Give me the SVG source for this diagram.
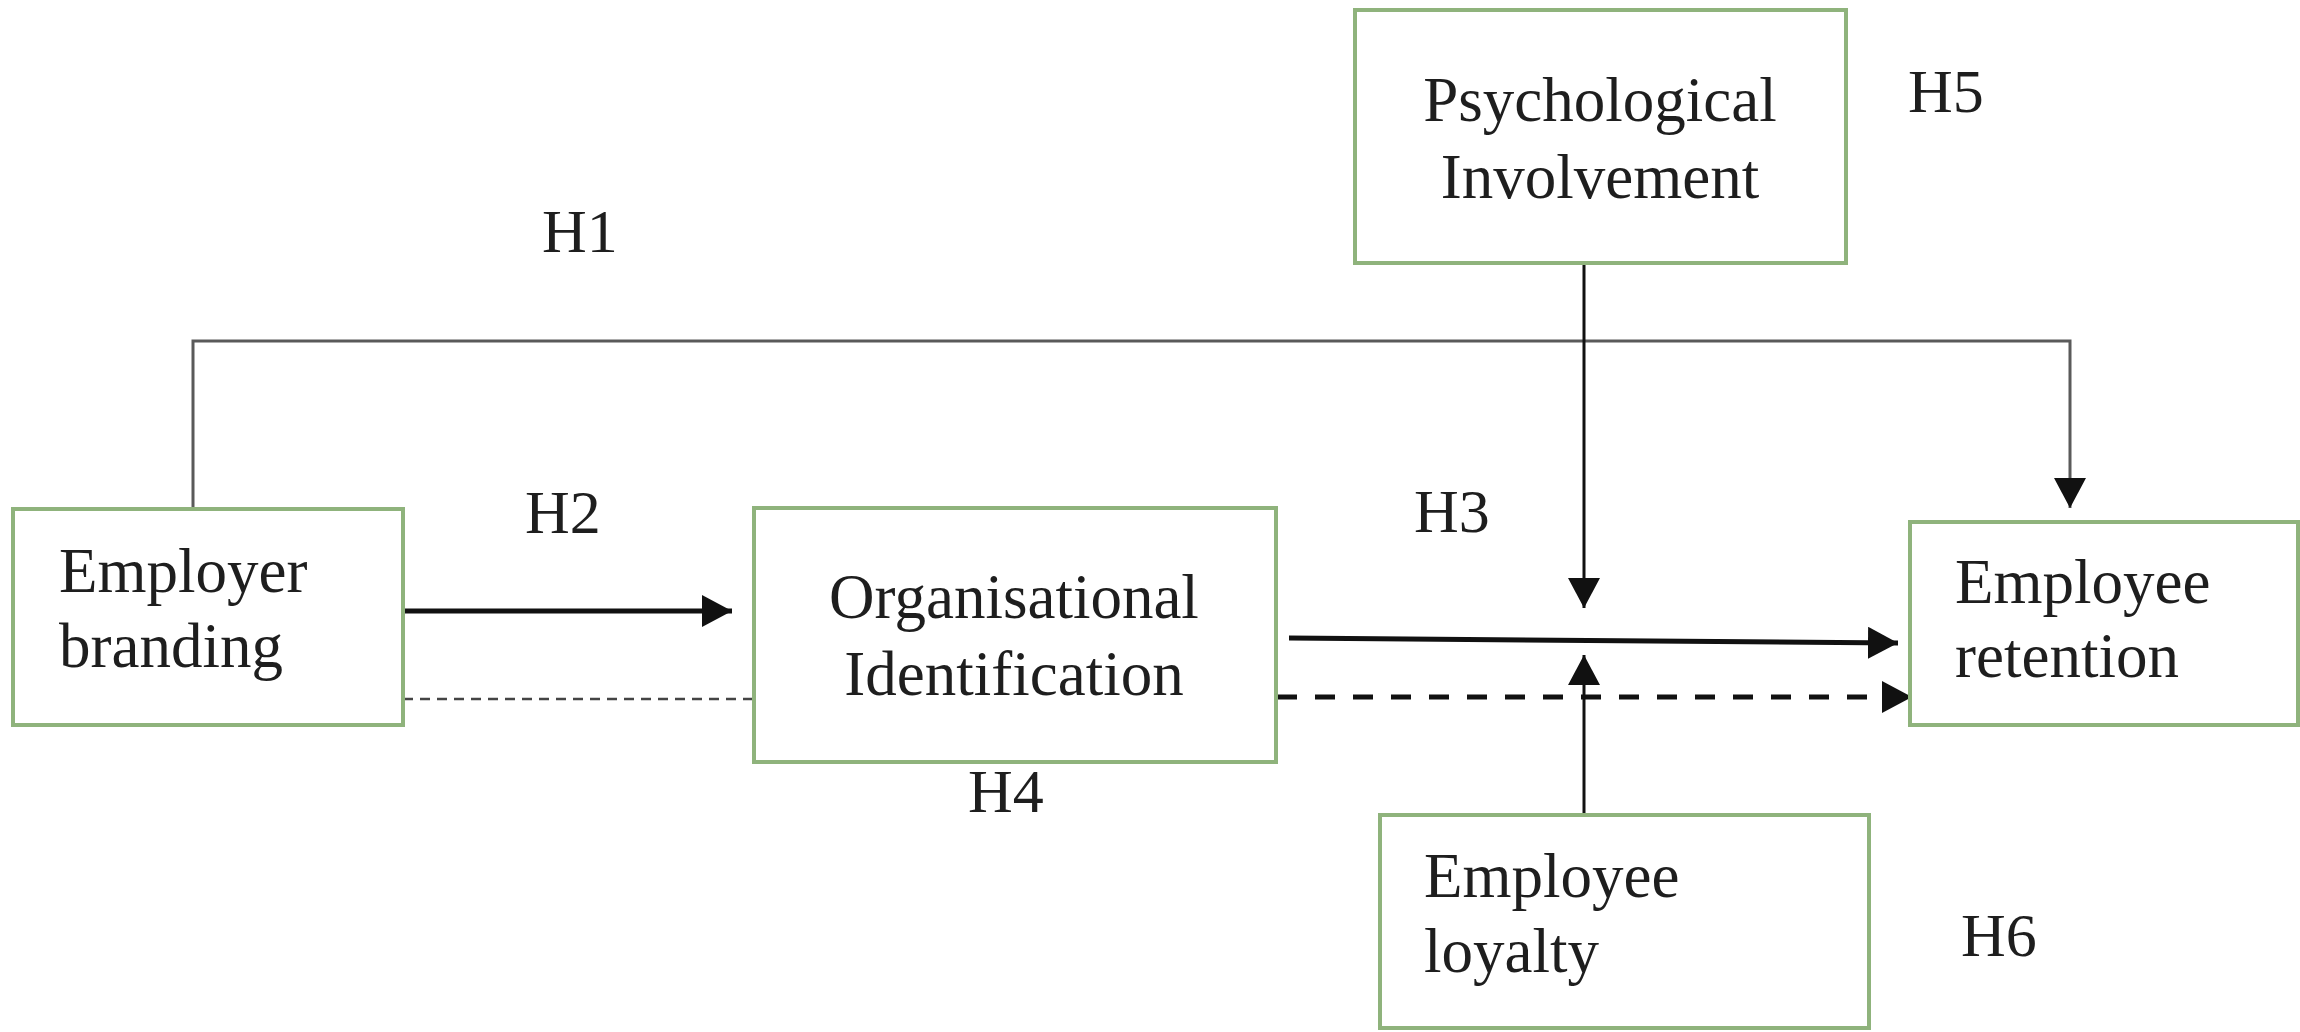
<svg xmlns="http://www.w3.org/2000/svg" width="2300" height="1032" viewBox="0 0 2300 1032">
  <style>
    .box { fill: #ffffff; stroke: #8fb37c; stroke-width: 4; }
    .lbl { font-family: "Liberation Serif", "Times New Roman", serif; font-size: 63px; fill: #1e1e1e; }
    .mid { text-anchor: middle; }
    .hyp { font-family: "Liberation Serif", "Times New Roman", serif; font-size: 62px; fill: #1e1e1e; }
    .solid { fill: none; stroke: #111; }
  </style>
  <defs>
    <marker id="head" markerUnits="userSpaceOnUse" viewBox="0 0 30 32" markerWidth="30" markerHeight="32" refX="30" refY="16" orient="auto">
      <path d="M0,0 L30,16 L0,32 z" fill="#111"/>
    </marker>
  </defs>

  <rect width="2300" height="1032" fill="#ffffff"/>

  <!-- connectors -->
  <g id="connectors">
    <!-- H1: employer branding to retention, routed over the top -->
    <path d="M193,509 V341 H2070 V508" fill="none" stroke="#5a5a5a" stroke-width="3" marker-end="url(#head)"/>
    <!-- H2: employer branding to organisational identification -->
    <line class="solid" x1="403" y1="611" x2="732" y2="611" stroke-width="5" marker-end="url(#head)"/>
    <!-- H4: indirect path (dashed) -->
    <line x1="403" y1="699" x2="754" y2="699" stroke="#444" stroke-width="2.5" stroke-dasharray="10 7"/>
    <line x1="1277" y1="697" x2="1912" y2="697" stroke="#111" stroke-width="5" stroke-dasharray="20 18" marker-end="url(#head)"/>
    <!-- H3: organisational identification to retention -->
    <line class="solid" x1="1289" y1="638" x2="1898" y2="643" stroke-width="5" marker-end="url(#head)"/>
    <!-- H5 / H6 moderators -->
    <line class="solid" x1="1584" y1="263" x2="1584" y2="608" stroke-width="3" marker-end="url(#head)"/>
    <line class="solid" x1="1584" y1="815" x2="1584" y2="655" stroke-width="3" marker-end="url(#head)"/>
  </g>

  <!-- nodes -->
  <g id="employer-branding">
    <rect class="box" x="13" y="509" width="390" height="216"/>
    <text class="lbl" x="59" y="592">Employer</text>
    <text class="lbl" x="59" y="667">branding</text>
  </g>

  <g id="organisational-identification">
    <rect class="box" x="754" y="508" width="522" height="254"/>
    <text class="lbl mid" x="1014" y="618">Organisational</text>
    <text class="lbl mid" x="1014" y="695">Identification</text>
  </g>

  <g id="psychological-involvement">
    <rect class="box" x="1355" y="10" width="491" height="253"/>
    <text class="lbl mid" x="1600" y="121">Psychological</text>
    <text class="lbl mid" x="1600" y="198">Involvement</text>
  </g>

  <g id="employee-retention">
    <rect class="box" x="1910" y="522" width="388" height="203"/>
    <text class="lbl" x="1955" y="603">Employee</text>
    <text class="lbl" x="1955" y="677">retention</text>
  </g>

  <g id="employee-loyalty">
    <rect class="box" x="1380" y="815" width="489" height="213"/>
    <text class="lbl" x="1424" y="897">Employee</text>
    <text class="lbl" x="1424" y="972">loyalty</text>
  </g>

  <!-- hypothesis labels -->
  <g id="hypotheses">
    <text class="hyp" x="542" y="252">H1</text>
    <text class="hyp" x="525" y="533">H2</text>
    <text class="hyp" x="1414" y="532">H3</text>
    <text class="hyp" x="968" y="812">H4</text>
    <text class="hyp" x="1908" y="112">H5</text>
    <text class="hyp" x="1961" y="956">H6</text>
  </g>
</svg>
